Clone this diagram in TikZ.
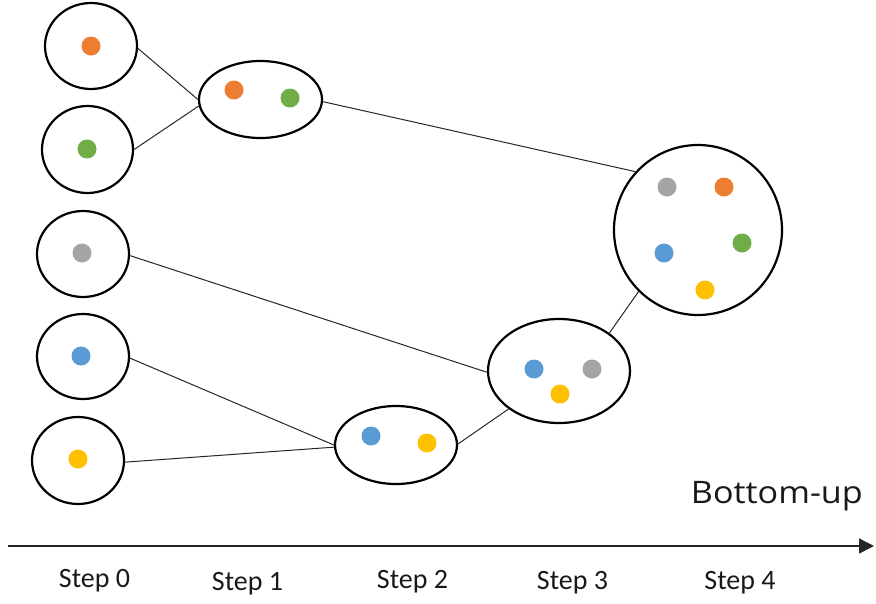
\documentclass[tikz,border=0pt]{standalone}
\usepackage{fontspec}
\setmainfont{Carlito}
\newfontfamily\bufont{Open Sans}
\usetikzlibrary{shapes.geometric,arrows.meta}
\definecolor{dorange}{HTML}{ED7D31}
\definecolor{dgreen}{HTML}{70AD47}
\definecolor{dgrey}{HTML}{A5A5A5}
\definecolor{dblue}{HTML}{5B9BD5}
\definecolor{dyellow}{HTML}{FFC000}
\tikzset{
  cluster/.style={ellipse, draw=black, line width=2.2pt, inner sep=0pt, fill=white},
  dot/.style={circle, inner sep=0pt, minimum size=19pt},
  link/.style={draw=black!85, line width=1pt},
  steplabel/.style={font=\fontsize{28}{32}\selectfont, inner sep=0pt, text=black!90},
}
\begin{document}
\begin{tikzpicture}[x=1pt,y=-1pt]
\useasboundingbox (0,0) rectangle (876,603);
% step 0 clusters
\node[cluster, minimum width=92pt, minimum height=86pt] (o0) at (91,46) {};
\node[cluster, minimum width=91pt, minimum height=87pt] (n0) at (87.5,149.5) {};
\node[cluster, minimum width=92pt, minimum height=86pt] (g0) at (83,254) {};
\node[cluster, minimum width=92pt, minimum height=85pt] (b0) at (83,356.5) {};
\node[cluster, minimum width=92pt, minimum height=87pt] (y0) at (78,460.5) {};
% merged clusters
\node[cluster, minimum width=123pt, minimum height=77pt] (s1) at (260.5,99.5) {};
\node[cluster, minimum width=122pt, minimum height=78pt] (s2) at (396,445) {};
\node[cluster, minimum width=142pt, minimum height=104pt] (s3) at (559,371) {};
\node[cluster, minimum width=168pt, minimum height=170pt] (s4) at (698,230) {};
% connectors
\draw[link] (o0.-3) -- (s1.180);
\draw[link] (n0.0) -- (s1.186);
\draw[link] (s1.-2) -- (s4.137);
\draw[link] (g0.-2) -- (s3.181);
\draw[link] (b0.-2) -- (s2.180);
\draw[link] (y0.-2) -- (s2.182);
\draw[link] (s2.1) -- (s3.217);
\draw[link] (s3.37) -- (s4.226);
% dots
\node[dot, fill=dorange] (d1) at (91,46) {};
\node[dot, fill=dgreen] (d2) at (87,149) {};
\node[dot, fill=dgrey] (d3) at (82,253) {};
\node[dot, fill=dblue] (d4) at (81,356) {};
\node[dot, fill=dyellow] (d5) at (78,459) {};
\node[dot, fill=dorange] (d6) at (234,90) {};
\node[dot, fill=dgreen] (d7) at (290,98) {};
\node[dot, fill=dblue] (d8) at (371,436) {};
\node[dot, fill=dyellow] (d9) at (427,443) {};
\node[dot, fill=dblue] (d10) at (534,369) {};
\node[dot, fill=dgrey] (d11) at (592,369) {};
\node[dot, fill=dyellow] (d12) at (560,394) {};
\node[dot, fill=dgrey] (d13) at (667,187) {};
\node[dot, fill=dorange] (d14) at (724,187) {};
\node[dot, fill=dgreen] (d15) at (742,243) {};
\node[dot, fill=dblue] (d16) at (664,253) {};
\node[dot, fill=dyellow] (d17) at (705,290) {};
% axis
\coordinate (ax0) at (8,546);
\coordinate (ax1) at (874,546);
\draw[line width=1.5pt, draw=black!85, -{Triangle[length=15pt,width=15pt]}] (ax0) -- (ax1);
\node[font=\bufont\fontsize{31}{34}\selectfont, inner sep=0pt, anchor=base east, text=black!90] (bu) at (863,503) {\scalebox{1.1}[1]{Bottom-up}};
\node[steplabel, anchor=base] (t0) at (94.5,587) {Step 0};
\node[steplabel, anchor=base] (t1) at (247.5,590) {Step 1};
\node[steplabel, anchor=base] (t2) at (412.5,588) {Step 2};
\node[steplabel, anchor=base] (t3) at (572.5,589) {Step 3};
\node[steplabel, anchor=base] (t4) at (740,589) {Step 4};
\end{tikzpicture}
\end{document}
